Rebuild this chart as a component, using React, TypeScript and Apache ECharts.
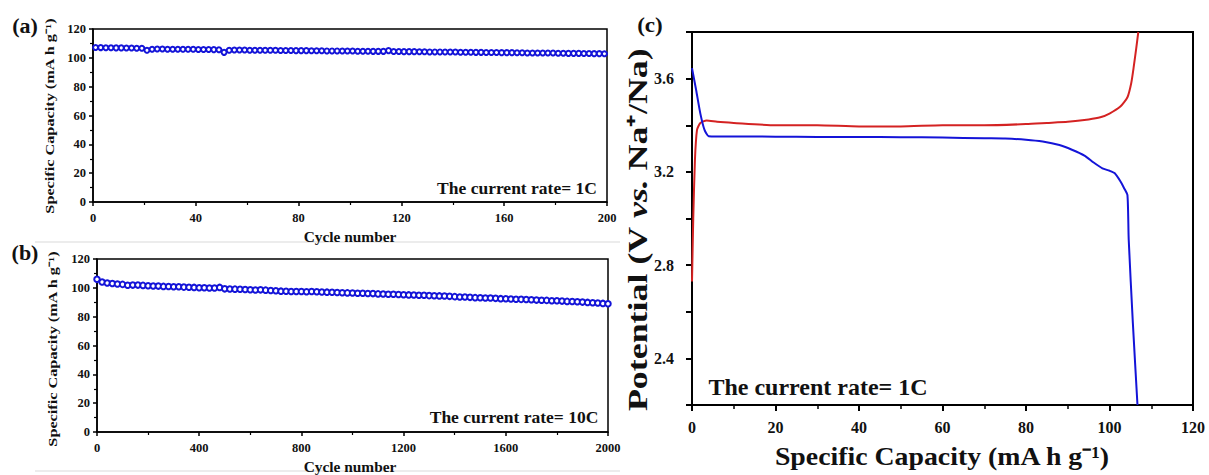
import React, { useEffect, useRef } from "react";
import * as echarts from "echarts";

// (a) cycling at 1C: cycle numbers 1,3,...,199
const cyclesA: number[] = Array.from({ length: 100 }, (_, i) => 1 + 2 * i);
const capA: number[] = [
  107.2, 107.1, 107.0, 107.0, 106.9, 106.9, 106.8, 106.8, 106.7, 106.6,
  105.2, 106.0, 106.1, 106.1, 106.0, 106.0, 106.0, 105.9, 105.9, 105.9, 105.8, 105.8, 105.8, 105.7, 105.6,
  103.8, 105.2, 105.4, 105.4, 105.4, 105.3, 105.3, 105.3, 105.2, 105.2, 105.2, 105.1, 105.1, 105.1, 105.0,
  105.0, 105.0, 104.9, 104.9, 104.9, 104.8, 104.8, 104.8, 104.7, 104.7,
  104.7, 104.6, 104.6, 104.6, 104.5, 104.5, 104.5, 105.0, 104.4, 104.4, 104.3, 104.3, 104.3, 104.2, 104.2,
  104.1, 104.1, 104.1, 104.0, 104.0, 104.0, 103.9, 103.9, 103.9, 103.8,
  103.8, 103.7, 103.7, 103.7, 103.6, 103.6, 103.6, 103.5, 103.5, 103.4, 103.4, 103.4, 103.3, 103.3, 103.3,
  103.2, 103.2, 103.1, 103.1, 103.1, 103.0, 103.0, 102.9, 102.9, 102.8,
];

// (b) cycling at 10C: cycle numbers 0,20,...,2000
const cyclesB: number[] = Array.from({ length: 101 }, (_, i) => 20 * i);
const capB: number[] = [
  106.0, 104.0, 103.4, 103.0, 102.7, 102.4, 101.8, 101.9, 101.9, 101.7,
  101.5, 101.3, 101.2, 101.0, 100.9, 100.8, 100.7, 100.5, 100.4, 100.3,
  100.1, 100.0, 99.9, 99.9, 100.3, 99.3, 99.2, 99.1, 99.0, 98.9,
  98.7, 98.5, 98.6, 98.4, 98.2, 98.0, 97.7, 97.6, 97.5, 97.4,
  97.4, 97.3, 97.4, 97.3, 97.1, 97.0, 96.9, 96.8, 96.6, 96.5,
  96.4, 96.3, 96.2, 96.1, 96.0, 95.8, 95.7, 95.6, 95.5, 95.4,
  95.2, 95.1, 95.0, 94.9, 94.8, 94.6, 94.5, 94.4, 94.3, 94.1,
  93.9, 93.7, 93.6, 93.4, 93.2, 93.1, 93.0, 92.9, 92.7, 92.5,
  92.4, 92.2, 92.1, 92.0, 91.9, 91.7, 91.5, 91.4, 91.3, 91.1,
  91.0, 90.8, 90.6, 90.5, 90.3, 90.1, 89.9, 89.7, 89.5, 89.2,
  88.9,
];

// (c) charge / discharge profiles at 1C
const chargeCap: number[] = [0, 0.3, 0.7, 1.2, 2, 3.5, 6, 10, 20, 30, 40, 50, 60, 70, 80, 85, 90, 95, 97.8, 100, 102.6, 104.3, 105.2, 105.8, 106.4, 106.9];
const chargeV: number[] = [2.73, 3.0, 3.25, 3.38, 3.41, 3.42, 3.415, 3.41, 3.40, 3.40, 3.395, 3.395, 3.40, 3.40, 3.405, 3.41, 3.415, 3.425, 3.434, 3.45, 3.48, 3.52, 3.58, 3.65, 3.73, 3.8];
const dischargeCap: number[] = [0, 1, 2, 3, 4, 6, 10, 20, 30, 40, 50, 60, 70, 75, 80, 84, 88, 91, 94, 96.2, 98.3, 100, 101.2, 102.6, 103.5, 104.3, 104.6, 105.6, 106.7];
const dischargeV: number[] = [3.645, 3.55, 3.45, 3.38, 3.353, 3.352, 3.352, 3.351, 3.35, 3.35, 3.349, 3.347, 3.344, 3.343, 3.338, 3.33, 3.315, 3.295, 3.27, 3.24, 3.215, 3.205, 3.195, 3.16, 3.13, 3.10, 2.91, 2.55, 2.2];

const yLabelsC: string[] = ["2.4", "2.8", "3.2", "3.6"];

const SERIF = "'Liberation Serif', 'Times New Roman', serif";
const BLUE = "#1414d8";
const RED = "#d42222";

function smallAxes(gridIndex: number, xMax: number, xInt: number, lw: number) {
  const common = {
    gridIndex,
    axisLine: { show: true, onZero: false, lineStyle: { color: "#000", width: lw } },
    axisTick: { show: true, inside: false, length: 4, lineStyle: { color: "#000", width: lw } },
    minorTick: { show: true, splitNumber: 2, length: 3, lineStyle: { color: "#000", width: 1.2 } },
    splitLine: { show: false },
    axisLabel: {
      color: "#111",
      fontFamily: SERIF,
      fontWeight: "bold",
      fontSize: 12.5,
      margin: 9,
      formatter: (v: number) => String(v),
    },
  };
  return {
    x: { ...common, type: "value", min: 0, max: xMax, interval: xInt },
    y: { ...common, type: "value", min: 0, max: 120, interval: 20, axisLabel: { ...common.axisLabel, margin: 7 } },
  };
}

export default function App() {
  const ref = useRef<HTMLDivElement>(null);
  useEffect(() => {
    if (!ref.current) return;
    const chart = echarts.init(ref.current, undefined, { renderer: "svg" });
    const a = smallAxes(0, 200, 40, 1.5);
    const b = smallAxes(1, 2000, 400, 1.5);
    const cx = {
      gridIndex: 2,
      type: "value",
      min: 0,
      max: 120,
      interval: 20,
      axisLine: { show: true, onZero: false, lineStyle: { color: "#000", width: 2 } },
      axisTick: { show: true, inside: false, length: 6, lineStyle: { color: "#000", width: 2 } },
      minorTick: { show: true, splitNumber: 2, length: 4, lineStyle: { color: "#000", width: 1.5 } },
      splitLine: { show: false },
      axisLabel: { color: "#111", fontFamily: SERIF, fontWeight: "bold", fontSize: 16, margin: 14 },
    };
    const cy = {
      gridIndex: 2,
      type: "value",
      min: 2.2,
      max: 3.8,
      interval: 0.2,
      axisLine: { show: true, onZero: false, lineStyle: { color: "#000", width: 2 } },
      axisTick: { show: true, inside: false, length: 6, lineStyle: { color: "#000", width: 2 } },
      splitLine: { show: false },
      axisLabel: {
        color: "#111",
        fontFamily: SERIF,
        fontWeight: "bold",
        fontSize: 16,
        margin: 18,
        formatter: (v: number) => {
          const s = v.toFixed(1);
          return yLabelsC.indexOf(s) >= 0 ? s : "";
        },
      },
    };

    const boldText = (x: number, y: number, text: string, size: number, extra: any = {}, scaleX = 1) => ({
      type: "text",
      x,
      y,
      scaleX,
      style: { text, fill: "#111", font: `bold ${size}px ${SERIF}`, ...extra },
    });
    const vText = (x: number, y: number, text: string, size: number, scaleX: number) => ({
      type: "text",
      x,
      y,
      rotation: Math.PI / 2,
      scaleX,
      style: { text, fill: "#111", font: `bold ${size}px ${SERIF}`, align: "center", verticalAlign: "middle" },
    });
    const mid = { align: "center", verticalAlign: "middle" };

    chart.setOption({
      animation: false,
      backgroundColor: "#fff",
      grid: [
        { left: 93, top: 29, width: 514, height: 173, show: true, borderColor: "#000", borderWidth: 1.5 },
        { left: 97, top: 259, width: 511, height: 173, show: true, borderColor: "#000", borderWidth: 1.5 },
        { left: 692, top: 32, width: 501, height: 373, show: true, borderColor: "#000", borderWidth: 2 },
      ],
      xAxis: [a.x, b.x, cx],
      yAxis: [a.y, b.y, cy],
      series: [
        {
          type: "line",
          xAxisIndex: 0,
          yAxisIndex: 0,
          data: cyclesA.map((c, i) => [c, capA[i]]),
          symbol: "emptyCircle",
          symbolSize: 5,
          itemStyle: { color: BLUE, borderWidth: 1.4 },
          lineStyle: { color: BLUE, width: 1.5 },
        },
        {
          type: "line",
          xAxisIndex: 1,
          yAxisIndex: 1,
          data: cyclesB.map((c, i) => [c, capB[i]]),
          symbol: "emptyCircle",
          symbolSize: 5.5,
          itemStyle: { color: BLUE, borderWidth: 1.4 },
          lineStyle: { color: BLUE, width: 1.5 },
        },
        {
          type: "line",
          xAxisIndex: 2,
          yAxisIndex: 2,
          data: chargeCap.map((c, i) => [c, chargeV[i]]),
          symbol: "none",
          smooth: 0.2,
          lineStyle: { color: RED, width: 2 },
        },
        {
          type: "line",
          xAxisIndex: 2,
          yAxisIndex: 2,
          data: dischargeCap.map((c, i) => [c, dischargeV[i]]),
          symbol: "none",
          smooth: 0.2,
          lineStyle: { color: BLUE, width: 2 },
        },
      ],
      graphic: [
        { type: "line", shape: { x1: 35, y1: 242, x2: 620, y2: 242 }, style: { stroke: "#e6e6e6", lineWidth: 1.5 } },
        { type: "line", shape: { x1: 35, y1: 471, x2: 620, y2: 471 }, style: { stroke: "#e6e6e6", lineWidth: 1.5 } },
        boldText(25, 26, "(a)", 20, mid, 1.1),
        boldText(25, 253, "(b)", 20, mid, 1.1),
        boldText(650, 25, "(c)", 22, mid, 1.05),
        boldText(350, 237, "Cycle number", 14, mid, 1.1),
        boldText(350, 467, "Cycle number", 14, mid, 1.1),
        vText(50, 116, "Specific Capacity (mA h g⁻¹)", 13, 1.25),
        vText(53, 349, "Specific Capacity (mA h g⁻¹)", 13, 1.25),
        boldText(517, 188, "The current rate= 1C", 17.5, mid),
        boldText(514, 417, "The current rate= 10C", 17.5, mid),
        boldText(818, 387, "The current rate= 1C", 24, mid),
        boldText(942, 456, "Specific Capacity (mA h g⁻¹)", 26, mid, 1.07),
        {
          type: "text",
          x: 638,
          y: 230,
          rotation: Math.PI / 2,
          scaleX: 1.33,
          style: {
            text: "{n|Potential (V }{i|vs.}{n| Na⁺/Na)}",
            align: "center",
            verticalAlign: "middle",
            rich: {
              n: { fill: "#111", fontFamily: SERIF, fontWeight: "bold", fontSize: 27 },
              i: { fill: "#111", fontFamily: SERIF, fontWeight: "bold", fontStyle: "italic", fontSize: 27 },
            },
          },
        },
      ],
    });
    return () => chart.dispose();
  }, []);
  return (
    <div
      ref={ref}
      style={{ position: "absolute", left: 0, top: 0, width: 1209, height: 475, background: "#fff" }}
    />
  );
}
